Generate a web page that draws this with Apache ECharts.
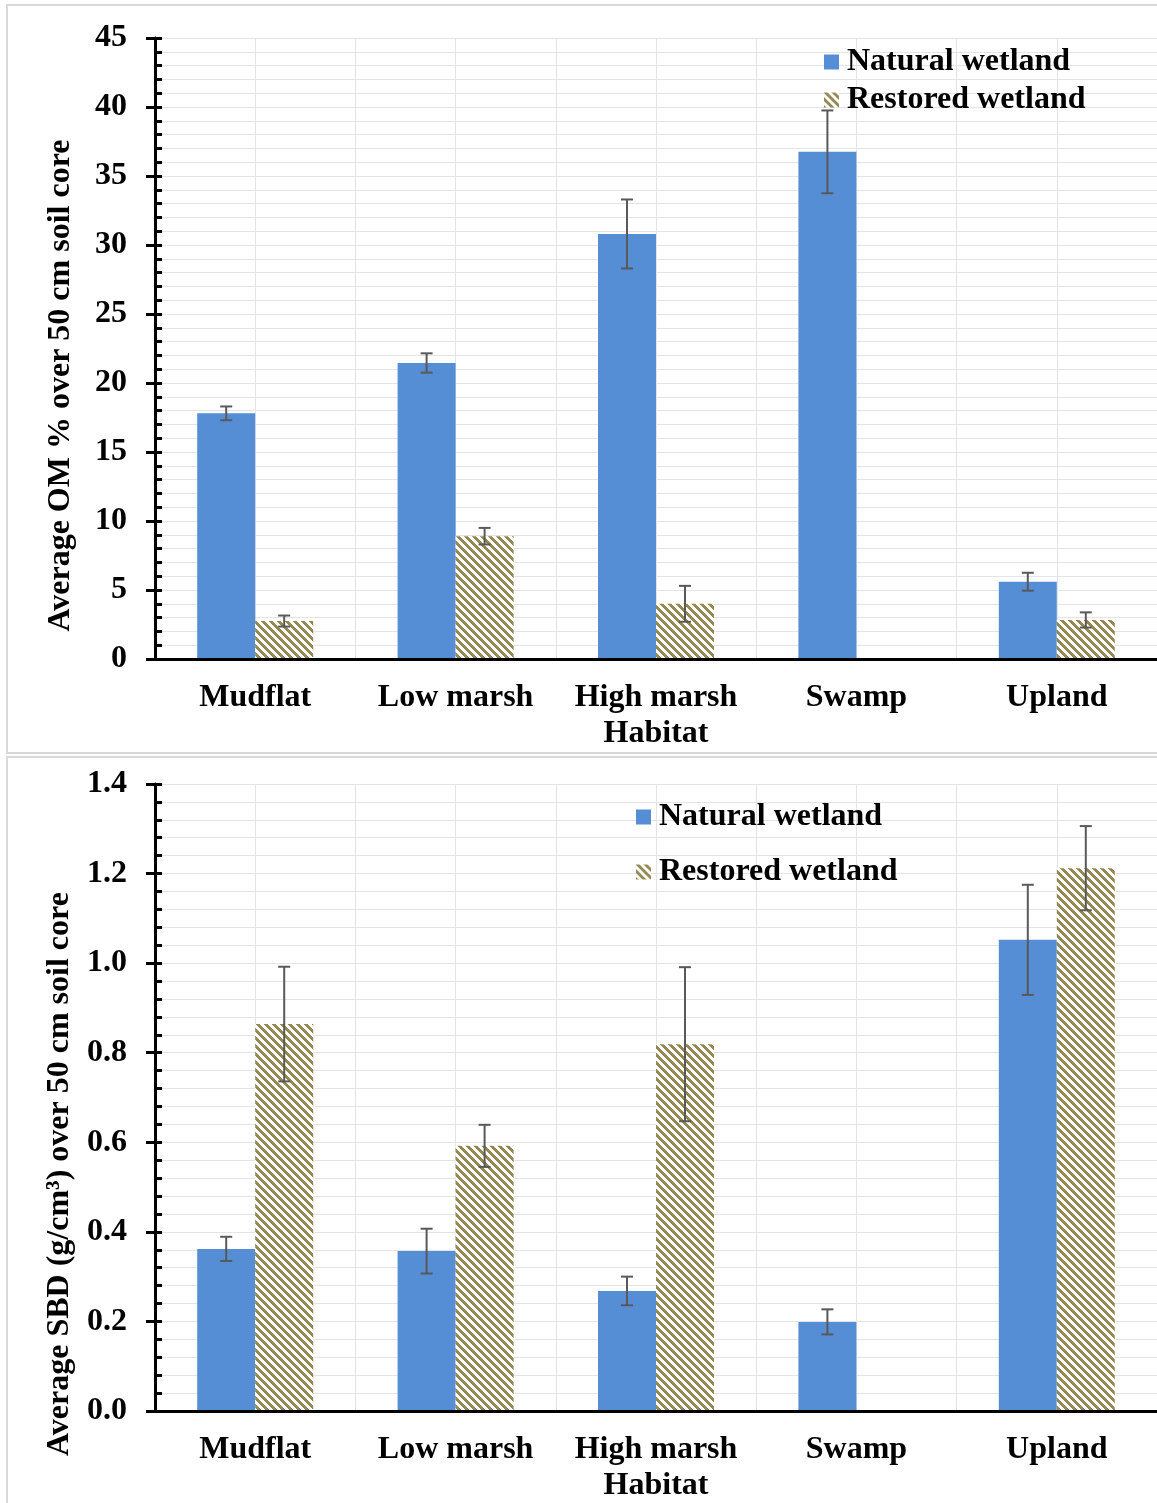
<!DOCTYPE html>
<html>
<head>
<meta charset="utf-8">
<title>Soil OM and SBD by habitat</title>
<script src="https://cdn.jsdelivr.net/npm/echarts@6/dist/echarts.min.js"></script>
<style>
  html, body { margin: 0; padding: 0; background: #fff; }
  #chart { width: 1157px; height: 1503px; }
</style>
</head>
<body>
<div id="chart"></div>
<script>
// Habitat categories shared by both panels
const categories = ['Mudflat', 'Low marsh', 'High marsh', 'Swamp', 'Upland'];
const seriesNames = ['Natural wetland', 'Restored wetland'];

// Panel 1: average organic matter (%) over a 50 cm core
const omNatural = [17.8, 21.45, 30.8, 36.75, 5.6];
const omNaturalErr = [0.5, 0.7, 2.5, 3.0, 0.65];
const omRestored = [2.75, 8.9, 4.0, null, 2.83];
const omRestoredErr = [0.4, 0.6, 1.3, null, 0.55];

// Panel 2: average soil bulk density (g/cm3) over a 50 cm core
const sbdNatural = [0.362, 0.357, 0.268, 0.199, 1.052];
const sbdNaturalErr = [0.027, 0.05, 0.032, 0.028, 0.123];
const sbdRestored = [0.864, 0.592, 0.819, null, 1.212];
const sbdRestoredErr = [0.128, 0.047, 0.172, null, 0.094];

const FONT = '"Liberation Serif", "Times New Roman", serif';
const BLUE = '#558ed5';
const OLIVE = '#958951';
const BAR_W = 58;

// Diagonal hatch fill for the restored bars
function makeHatch() {
  const c = document.createElement('canvas');
  c.width = 8; c.height = 8;
  const ctx = c.getContext('2d');
  ctx.fillStyle = '#ffffff';
  ctx.fillRect(0, 0, 8, 8);
  ctx.fillStyle = OLIVE;
  for (let y = 0; y < 8; y++) {
    for (let x = 0; x < 8; x++) {
      if ((((x - y) % 8) + 8) % 8 < 4) ctx.fillRect(x, y, 1, 1);
    }
  }
  return c;
}
const hatch = { image: makeHatch(), repeat: 'repeat' };

const labelStyle = { color: '#000', fontFamily: FONT, fontWeight: 'bold', fontSize: 32 };
const gridLine = { show: true, lineStyle: { color: '#e4e4e4', width: 1 } };

function errorSeries(name, values, errs, xIdx, yIdx, side) {
  return {
    type: 'custom',
    name: name + ' error',
    xAxisIndex: xIdx,
    yAxisIndex: yIdx,
    z: 5,
    silent: true,
    encode: { x: 0, y: 1 },
    data: values.map((v, i) => [i, v, errs[i]]),
    renderItem: function (params, api) {
      const v = api.value(1);
      const e = api.value(2);
      if (v == null || isNaN(v) || e == null || isNaN(e)) return null;
      const hi = api.coord([api.value(0), v + e]);
      const lo = api.coord([api.value(0), v - e]);
      const x = hi[0] + side * BAR_W / 2;
      const cap = 6;
      const style = { stroke: '#595959', lineWidth: 2 };
      return {
        type: 'group',
        children: [
          { type: 'line', shape: { x1: x, y1: hi[1], x2: x, y2: lo[1] }, style: style },
          { type: 'line', shape: { x1: x - cap, y1: hi[1], x2: x + cap, y2: hi[1] }, style: style },
          { type: 'line', shape: { x1: x - cap, y1: lo[1], x2: x + cap, y2: lo[1] }, style: style }
        ]
      };
    }
  };
}

function yAxesFor(gridIndex, max, interval, decimals, name, shift) {
  return [
    {
      type: 'value', gridIndex: gridIndex, position: 'left',
      min: 0, max: max, interval: interval,
      name: name, nameLocation: 'middle', nameGap: 78,
      nameTextStyle: Object.assign({}, labelStyle, { padding: [0, shift, 0, 0] }),
      axisLine: { show: true, lineStyle: { color: '#000', width: 3 } },
      axisTick: { show: true, inside: true, length: 7, lineStyle: { color: '#000', width: 3 } },
      minorTick: { show: true, splitNumber: 5, length: 7, lineStyle: { color: '#000', width: 3 } },
      axisLabel: Object.assign({}, labelStyle, {
        margin: 28,
        formatter: v => decimals ? v.toFixed(decimals) : String(v)
      }),
      splitLine: gridLine,
      minorSplitLine: gridLine
    },
    {
      // outward half of the major tick marks
      type: 'value', gridIndex: gridIndex, position: 'left',
      min: 0, max: max, interval: interval,
      axisLine: { show: false },
      axisTick: { show: true, inside: false, length: 9, lineStyle: { color: '#000', width: 3 } },
      axisLabel: { show: false },
      splitLine: { show: false }
    }
  ];
}

function xAxesFor(gridIndex) {
  return [
    {
      type: 'category', gridIndex: gridIndex, data: categories,
      name: 'Habitat', nameLocation: 'middle', nameGap: 59,
      nameTextStyle: labelStyle,
      axisLine: { show: true, lineStyle: { color: '#000', width: 3 } },
      axisTick: { show: false },
      axisLabel: Object.assign({}, labelStyle, { margin: 23, interval: 0 }),
      splitLine: { show: false },
      z: 10
    },
    {
      // vertical gridlines at every half category
      type: 'value', gridIndex: gridIndex, min: 0, max: 10, interval: 1,
      axisLine: { show: false }, axisTick: { show: false }, axisLabel: { show: false },
      splitLine: gridLine
    }
  ];
}

function barSeries(name, values, xIdx, yIdx, color) {
  return {
    type: 'bar', name: name, xAxisIndex: xIdx, yAxisIndex: yIdx,
    data: values, barWidth: BAR_W, barGap: '0%',
    itemStyle: { color: color },
    z: 3
  };
}

const legendText = Object.assign({}, labelStyle, { lineHeight: 32, padding: [0, 0, 0, 3] });

const chart = echarts.init(document.getElementById('chart'), null, { renderer: 'canvas' });

chart.setOption({
  backgroundColor: '#ffffff',
  animation: false,
  grid: [
    { left: 155, top: 38, width: 1004, height: 621 },
    { left: 155, top: 784, width: 1004, height: 627 }
  ],
  xAxis: [...xAxesFor(0), ...xAxesFor(1)],
  yAxis: [
    ...yAxesFor(0, 45, 5, 0, 'Average OM % over 50 cm soil core', 74),
    ...yAxesFor(1, 1.4, 0.2, 1, 'Average SBD (g/cm³) over 50 cm soil core', 153)
  ],
  legend: [
    {
      data: seriesNames.map(n => ({ name: n })),
      orient: 'vertical', left: 819, top: 41,
      icon: 'rect', itemWidth: 15, itemHeight: 15, itemGap: 6,
      textStyle: legendText,
      selectedMode: false
    },
    {
      data: seriesNames.map(n => ({ name: n + ' ' })),
      orient: 'vertical', left: 631, top: 796,
      icon: 'rect', itemWidth: 15, itemHeight: 15, itemGap: 23,
      textStyle: legendText,
      formatter: n => n.trim(),
      selectedMode: false
    }
  ],
  graphic: [
    { type: 'rect', shape: { x: 7, y: 5, width: 1160, height: 748 },
      style: { fill: 'none', stroke: '#d9d9d9', lineWidth: 2 }, z: -10 },
    { type: 'rect', shape: { x: 7, y: 757, width: 1160, height: 760 },
      style: { fill: 'none', stroke: '#d9d9d9', lineWidth: 2 }, z: -10 }
  ],
  series: [
    barSeries(seriesNames[0], omNatural, 0, 0, BLUE),
    barSeries(seriesNames[1], omRestored, 0, 0, hatch),
    errorSeries(seriesNames[0], omNatural, omNaturalErr, 0, 0, -1),
    errorSeries(seriesNames[1], omRestored, omRestoredErr, 0, 0, 1),
    barSeries(seriesNames[0] + ' ', sbdNatural, 2, 2, BLUE),
    barSeries(seriesNames[1] + ' ', sbdRestored, 2, 2, hatch),
    errorSeries(seriesNames[0] + ' ', sbdNatural, sbdNaturalErr, 2, 2, -1),
    errorSeries(seriesNames[1] + ' ', sbdRestored, sbdRestoredErr, 2, 2, 1)
  ]
});
</script>
</body>
</html>
